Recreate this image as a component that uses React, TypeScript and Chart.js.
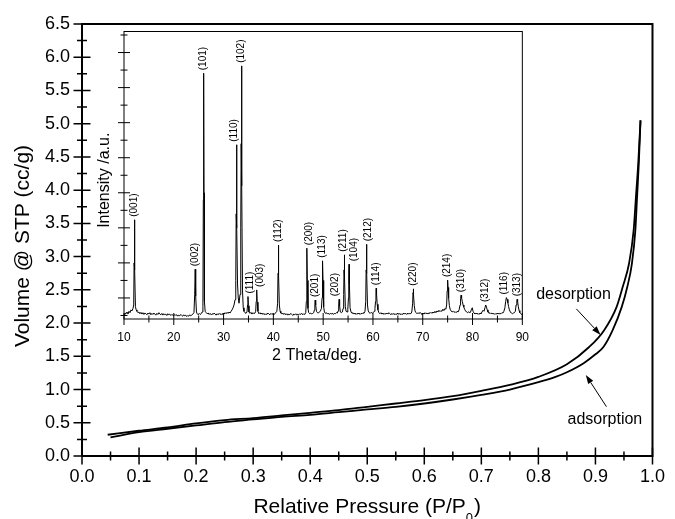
import React, { useEffect, useRef } from 'react';
import { Chart, registerables } from 'chart.js';

Chart.register(...registerables);

const FONT = "'Liberation Sans', Arial, Helvetica, sans-serif";

// ---------- Main isotherm (Relative pressure vs volume) ----------
const adsorptionP = [0.05, 0.1, 0.15, 0.2, 0.25, 0.3, 0.35, 0.4, 0.45, 0.5, 0.55, 0.6, 0.65, 0.7, 0.75, 0.8, 0.83, 0.85, 0.88, 0.9, 0.914, 0.93, 0.946, 0.956, 0.964, 0.97, 0.973, 0.976, 0.979];
const adsorptionV = [0.28, 0.36, 0.41, 0.46, 0.51, 0.55, 0.59, 0.62, 0.66, 0.70, 0.74, 0.79, 0.85, 0.92, 1.00, 1.11, 1.19, 1.26, 1.40, 1.53, 1.64, 1.89, 2.24, 2.55, 2.90, 3.40, 3.90, 4.40, 5.05];
const desorptionP = [0.045, 0.1, 0.15, 0.2, 0.25, 0.3, 0.35, 0.4, 0.45, 0.5, 0.55, 0.6, 0.65, 0.7, 0.75, 0.8, 0.85, 0.889, 0.915, 0.937, 0.948, 0.959, 0.967, 0.971, 0.975, 0.979];
const desorptionV = [0.32, 0.38, 0.43, 0.49, 0.54, 0.57, 0.61, 0.65, 0.69, 0.74, 0.79, 0.84, 0.90, 0.98, 1.07, 1.19, 1.38, 1.64, 1.89, 2.24, 2.55, 2.90, 3.40, 3.90, 4.40, 5.05];

const pressureRange = [0, 1];
const volumeRange = [0, 6.5];

// annotation anchors in data units [P, V]
const desorptionLabelAt = [0.8616, 2.355];
const adsorptionLabelAt = [0.9166, 0.488];
const desorptionArrow = [[0.8665, 2.214], [0.909, 1.822]];
const adsorptionArrow = [[0.9193, 0.742], [0.8831, 1.22]];

// ---------- Inset XRD pattern ----------
const twoThetaRange = [10, 90];
const intensityRange = [40, 860];

const xrdPattern: [number, number][] = [
  [10.0, 52], [10.2, 57], [10.4, 55], [10.6, 60], [10.8, 54], [11.0, 62], [11.2, 58], [11.4, 66], [11.6, 63], [11.8, 70],
  [11.95, 80], [12.03, 200], [12.1, 323], [12.18, 180], [12.3, 75], [12.45, 66],
  [12.6, 62], [12.8, 58], [13.0, 60], [13.2, 55], [13.4, 59], [13.6, 54], [13.8, 58], [14.0, 53], [14.2, 57], [14.4, 55],
  [14.6, 52], [14.8, 57], [15.0, 54], [15.2, 58], [15.4, 52], [15.6, 56], [15.8, 53], [16.0, 57], [16.2, 54], [16.4, 51],
  [16.6, 56], [16.8, 53], [17.0, 58], [17.2, 54], [17.4, 52], [17.6, 56], [17.8, 51], [18.0, 55], [18.2, 52], [18.4, 54],
  [18.6, 50], [18.8, 55], [19.0, 52], [19.2, 54], [19.4, 50], [19.6, 53], [19.8, 51], [20.0, 49], [20.2, 53], [20.4, 50],
  [20.6, 52], [20.8, 48], [21.0, 51], [21.2, 49], [21.4, 53], [21.6, 50], [21.8, 48], [22.0, 52], [22.2, 49], [22.4, 51],
  [22.6, 47], [22.8, 50], [23.0, 48], [23.2, 52], [23.4, 49], [23.6, 51], [23.8, 54],
  [24.05, 58], [24.2, 110], [24.3, 182], [24.4, 105], [24.55, 60],
  [24.7, 55], [24.9, 52], [25.1, 56], [25.3, 53], [25.5, 55], [25.7, 60],
  [25.85, 75], [25.93, 380], [26.0, 741], [26.07, 400], [26.15, 90], [26.3, 62],
  [26.5, 58], [26.7, 55], [26.9, 57], [27.1, 53], [27.3, 56], [27.5, 52], [27.7, 55], [27.9, 53], [28.1, 57], [28.3, 54],
  [28.5, 51], [28.7, 55], [28.9, 52], [29.1, 56], [29.3, 53], [29.5, 55], [29.7, 52], [29.9, 57], [30.1, 54], [30.3, 58],
  [30.5, 55], [30.7, 59], [30.9, 56], [31.1, 60], [31.3, 57], [31.5, 62], [31.7, 66], [31.9, 72], [32.1, 80], [32.3, 95],
  [32.45, 150], [32.53, 340], [32.6, 537], [32.68, 300], [32.8, 140], [32.95, 100], [33.1, 85], [33.3, 110],
  [33.45, 300], [33.53, 540], [33.6, 762], [33.68, 420], [33.8, 120], [33.95, 72], [34.1, 62], [34.3, 58], [34.5, 56], [34.7, 60],
  [34.82, 80], [34.9, 104], [34.98, 78], [35.1, 60], [35.3, 56], [35.5, 59], [35.7, 54], [35.9, 58], [36.1, 55], [36.3, 57], [36.45, 62],
  [36.55, 90], [36.65, 123], [36.75, 88], [36.9, 62], [37.1, 55], [37.3, 58], [37.5, 54], [37.7, 57], [37.9, 53], [38.1, 56],
  [38.3, 52], [38.5, 55], [38.7, 53], [38.9, 57], [39.1, 54], [39.3, 52], [39.5, 56], [39.7, 53], [39.9, 55], [40.1, 52],
  [40.3, 56], [40.5, 58], [40.7, 62],
  [40.85, 85], [40.93, 170], [41.0, 251], [41.08, 165], [41.2, 80], [41.35, 62], [41.5, 57], [41.7, 54], [41.9, 57], [42.1, 53],
  [42.3, 56], [42.5, 52], [42.7, 55], [42.9, 51], [43.1, 54], [43.3, 52], [43.5, 56], [43.7, 53], [43.9, 50], [44.1, 54],
  [44.3, 52], [44.5, 55], [44.7, 51], [44.9, 54], [45.1, 52], [45.3, 55], [45.5, 53], [45.7, 56], [45.9, 52], [46.1, 55],
  [46.3, 53], [46.5, 58],
  [46.62, 90], [46.69, 180], [46.75, 242], [46.82, 150], [46.95, 70], [47.1, 58], [47.3, 55], [47.5, 57], [47.7, 54], [47.9, 56],
  [48.1, 58], [48.25, 66], [48.33, 82], [48.4, 94], [48.5, 80], [48.65, 62], [48.85, 58], [49.05, 57], [49.25, 60], [49.45, 63], [49.65, 70],
  [49.78, 100], [49.85, 170], [49.9, 206], [49.97, 150], [50.1, 75], [50.25, 60], [50.45, 56], [50.65, 58], [50.85, 54], [51.05, 57],
  [51.25, 53], [51.45, 56], [51.65, 54], [51.85, 57], [52.05, 53], [52.25, 56], [52.45, 55], [52.65, 58], [52.85, 57], [53.0, 63],
  [53.12, 80], [53.2, 96], [53.3, 78], [53.45, 60], [53.65, 58], [53.85, 60], [54.0, 70],
  [54.12, 110], [54.19, 180], [54.25, 223], [54.32, 160], [54.45, 75], [54.6, 62], [54.8, 60], [54.95, 68],
  [55.08, 100], [55.14, 160], [55.2, 196], [55.27, 140], [55.4, 72], [55.6, 60], [55.8, 56], [56.0, 58], [56.2, 54], [56.4, 57],
  [56.6, 53], [56.8, 56], [57.0, 54], [57.2, 57], [57.4, 53], [57.6, 56], [57.8, 55], [58.0, 58], [58.2, 56], [58.4, 62],
  [58.55, 90], [58.63, 180], [58.7, 253], [58.78, 170], [58.9, 80], [59.05, 63], [59.25, 58], [59.45, 56], [59.65, 59], [59.85, 56],
  [60.05, 58], [60.25, 62], [60.4, 70],
  [60.52, 90], [60.6, 118], [60.65, 128], [60.72, 112], [60.85, 82], [61.0, 66], [61.2, 58], [61.4, 55], [61.6, 58], [61.8, 54],
  [62.0, 57], [62.2, 53], [62.4, 56], [62.6, 54], [62.8, 57], [63.0, 54], [63.2, 58], [63.4, 55], [63.6, 52], [63.8, 56],
  [64.0, 53], [64.2, 56], [64.4, 52], [64.6, 55], [64.8, 53], [65.0, 57], [65.2, 53], [65.4, 56], [65.6, 52], [65.8, 55],
  [66.0, 53], [66.2, 57], [66.4, 54], [66.6, 56], [66.8, 53], [67.0, 57], [67.2, 54], [67.4, 56], [67.6, 55], [67.8, 60],
  [67.97, 85], [68.05, 115], [68.1, 126], [68.17, 110], [68.3, 78], [68.45, 63], [68.65, 58], [68.85, 55], [69.05, 58], [69.25, 55],
  [69.45, 59], [69.65, 56], [69.85, 53], [70.05, 57], [70.25, 54], [70.45, 58], [70.65, 55], [70.85, 57], [71.05, 54], [71.25, 58],
  [71.45, 56], [71.65, 59], [71.85, 56], [72.05, 60], [72.25, 57], [72.45, 62], [72.65, 58], [72.85, 63], [73.05, 60], [73.25, 65],
  [73.45, 61], [73.65, 64], [73.85, 62], [74.05, 68], [74.25, 64], [74.45, 70], [74.65, 68], [74.8, 80],
  [74.9, 120], [75.0, 151], [75.08, 130], [75.2, 100], [75.35, 78], [75.5, 68], [75.7, 63], [75.9, 60], [76.1, 62], [76.3, 59],
  [76.5, 61], [76.7, 58], [76.9, 62], [77.1, 60], [77.3, 66], [77.5, 80],
  [77.6, 98], [77.7, 108], [77.8, 100], [77.95, 90], [78.1, 80], [78.25, 74], [78.4, 68], [78.6, 63], [78.8, 60], [79.0, 58],
  [79.2, 61], [79.4, 57], [79.6, 60], [79.8, 68], [79.95, 72], [80.1, 62], [80.3, 57], [80.5, 54], [80.7, 57], [80.9, 54],
  [81.1, 56], [81.3, 53], [81.5, 57], [81.7, 55], [81.9, 60], [82.1, 65], [82.3, 62], [82.5, 72],
  [82.65, 80], [82.8, 74], [82.95, 66], [83.1, 60], [83.3, 56], [83.5, 58], [83.7, 55], [83.9, 57], [84.1, 54], [84.3, 56],
  [84.5, 53], [84.7, 56], [84.9, 54], [85.1, 57], [85.3, 54], [85.5, 56], [85.7, 55], [85.9, 58], [86.1, 57], [86.3, 62],
  [86.5, 72], [86.65, 90], [86.8, 101], [86.95, 96], [87.1, 86], [87.25, 75], [87.4, 66], [87.6, 60], [87.8, 57], [88.0, 55],
  [88.2, 57], [88.4, 58], [88.6, 62], [88.75, 80], [88.9, 92], [88.95, 96], [89.05, 90], [89.2, 75], [89.35, 64], [89.5, 58],
  [89.7, 55], [89.85, 53], [90.0, 52],
];

const peakHkl = ['(001)', '(002)', '(101)', '(110)', '(102)', '(111)', '(003)', '(112)', '(200)', '(201)', '(113)', '(202)', '(211)', '(104)', '(212)', '(114)', '(220)', '(214)', '(310)', '(312)', '(116)', '(313)'];
const peakAngle = [12.1, 24.3, 26.0, 32.6, 33.6, 34.9, 36.65, 41.0, 46.75, 48.4, 49.9, 53.2, 54.25, 55.2, 58.7, 60.65, 68.1, 75.0, 77.7, 82.65, 86.8, 88.95];
const peakHeight = [323, 182, 741, 537, 762, 104, 123, 251, 242, 94, 206, 96, 223, 196, 253, 128, 126, 151, 108, 80, 101, 96];

// small horizontal label nudges (px) for crowded labels
const labelNudge: Record<string, number> = { '(110)': -2, '(111)': 2, '(003)': 4, '(200)': 2, '(202)': -4, '(211)': -1, '(104)': 5, '(212)': 2, '(116)': -2 };

function drawArrow(ctx: CanvasRenderingContext2D, x0: number, y0: number, x1: number, y1: number) {
  const ang = Math.atan2(y1 - y0, x1 - x0);
  const headLen = 9;
  const headHalf = 3;
  const bx = x1 - headLen * Math.cos(ang);
  const by = y1 - headLen * Math.sin(ang);
  ctx.beginPath();
  ctx.lineWidth = 1;
  ctx.moveTo(x0, y0);
  ctx.lineTo(bx, by);
  ctx.stroke();
  ctx.beginPath();
  ctx.moveTo(x1, y1);
  ctx.lineTo(bx + headHalf * Math.sin(ang), by - headHalf * Math.cos(ang));
  ctx.lineTo(bx - headHalf * Math.sin(ang), by + headHalf * Math.cos(ang));
  ctx.closePath();
  ctx.fill();
}

const mainDecor = {
  id: 'mainDecor',
  afterDraw(chart: any) {
    const { ctx, chartArea } = chart;
    const { left, right, top, bottom } = chartArea;
    const x = chart.scales.x;
    const y = chart.scales.y;
    ctx.save();
    ctx.strokeStyle = '#000';
    ctx.fillStyle = '#000';
    ctx.lineWidth = 2;
    ctx.strokeRect(left, top, right - left, bottom - top);

    // crossing tick marks
    ctx.lineWidth = 1.5;
    ctx.beginPath();
    const xv = x.ticks.map((t: any) => t.value);
    xv.forEach((v: number, i: number) => {
      const px = x.getPixelForValue(v);
      ctx.moveTo(px, bottom - 8.5);
      ctx.lineTo(px, bottom + 8.5);
      if (i < xv.length - 1) {
        const pm = x.getPixelForValue((v + xv[i + 1]) / 2);
        ctx.moveTo(pm, bottom - 4.5);
        ctx.lineTo(pm, bottom + 4.5);
      }
    });
    const yv = y.ticks.map((t: any) => t.value);
    yv.forEach((v: number, i: number) => {
      const py = y.getPixelForValue(v);
      ctx.moveTo(left - 8.5, py);
      ctx.lineTo(left + 8.5, py);
      if (i < yv.length - 1) {
        const pm = y.getPixelForValue((v + yv[i + 1]) / 2);
        ctx.moveTo(left - 5, pm);
        ctx.lineTo(left + 5, pm);
      }
    });
    ctx.stroke();

    // axis titles
    ctx.font = `21px ${FONT}`;
    ctx.textBaseline = 'alphabetic';
    const mainTxt = 'Relative Pressure (P/P';
    const wMain = ctx.measureText(mainTxt).width;
    ctx.font = `13px ${FONT}`;
    const wSub = ctx.measureText('0').width;
    ctx.font = `21px ${FONT}`;
    const wClose = ctx.measureText(')').width;
    const total = wMain + wSub + wClose + 1;
    const cx = (left + right) / 2;
    let sx = cx - total / 2;
    const baseY = bottom + 57;
    ctx.textAlign = 'left';
    ctx.fillText(mainTxt, sx, baseY);
    sx += wMain;
    ctx.font = `13px ${FONT}`;
    ctx.fillText('0', sx, baseY + 9);
    sx += wSub + 1;
    ctx.font = `21px ${FONT}`;
    ctx.fillText(')', sx, baseY);

    ctx.save();
    ctx.translate(23, (top + bottom) / 2 + 6);
    ctx.rotate(-Math.PI / 2);
    ctx.textAlign = 'center';
    ctx.textBaseline = 'middle';
    ctx.fillText('Volume @ STP (cc/g)', 0, 0);
    ctx.restore();

    // annotations
    ctx.font = `16px ${FONT}`;
    ctx.textAlign = 'center';
    ctx.textBaseline = 'alphabetic';
    ctx.fillText('desorption', x.getPixelForValue(desorptionLabelAt[0]), y.getPixelForValue(desorptionLabelAt[1]));
    ctx.fillText('adsorption', x.getPixelForValue(adsorptionLabelAt[0]), y.getPixelForValue(adsorptionLabelAt[1]));
    drawArrow(ctx,
      x.getPixelForValue(desorptionArrow[0][0]), y.getPixelForValue(desorptionArrow[0][1]),
      x.getPixelForValue(desorptionArrow[1][0]), y.getPixelForValue(desorptionArrow[1][1]));
    drawArrow(ctx,
      x.getPixelForValue(adsorptionArrow[0][0]), y.getPixelForValue(adsorptionArrow[0][1]),
      x.getPixelForValue(adsorptionArrow[1][0]), y.getPixelForValue(adsorptionArrow[1][1]));
    ctx.restore();
  },
};

const insetDecor = {
  id: 'insetDecor',
  afterDraw(chart: any) {
    const { ctx, chartArea } = chart;
    const { left, right, top, bottom } = chartArea;
    const x = chart.scales.x;
    const y = chart.scales.y;
    ctx.save();
    ctx.strokeStyle = '#000';
    ctx.fillStyle = '#000';
    ctx.lineWidth = 1;
    ctx.strokeRect(left, top, right - left, bottom - top);

    ctx.beginPath();
    const xv = x.ticks.map((t: any) => t.value);
    xv.forEach((v: number, i: number) => {
      const px = x.getPixelForValue(v);
      ctx.moveTo(px, bottom - 6);
      ctx.lineTo(px, bottom + 6);
      if (i < xv.length - 1) {
        const pm = x.getPixelForValue((v + xv[i + 1]) / 2);
        ctx.moveTo(pm, bottom - 3.5);
        ctx.lineTo(pm, bottom + 3.5);
      }
    });
    for (let v = 50; v <= 850; v += 50) {
      const py = y.getPixelForValue(v);
      const len = v % 100 === 0 ? 6 : 3.5;
      ctx.moveTo(left - len, py);
      ctx.lineTo(left + len, py);
    }
    ctx.stroke();

    // peak labels
    ctx.font = `10px ${FONT}`;
    peakHkl.forEach((h, i) => {
      const px = x.getPixelForValue(peakAngle[i]) + (labelNudge[h] || 0);
      const py = y.getPixelForValue(peakHeight[i]) - 3;
      ctx.save();
      ctx.translate(px, py);
      ctx.rotate(-Math.PI / 2);
      ctx.textAlign = 'left';
      ctx.textBaseline = 'middle';
      ctx.fillText(h, 0, 0);
      ctx.restore();
    });

    // titles
    ctx.font = `16px ${FONT}`;
    ctx.textAlign = 'center';
    ctx.textBaseline = 'alphabetic';
    ctx.fillText('2 Theta/deg.', left + 193, bottom + 41);
    ctx.save();
    ctx.translate(left - 19, (top + bottom) / 2 + 5);
    ctx.rotate(-Math.PI / 2);
    ctx.textAlign = 'center';
    ctx.textBaseline = 'middle';
    ctx.fillText('Intensity /a.u.', 0, 0);
    ctx.restore();
    ctx.restore();
  },
};

export default function App() {
  const mainRef = useRef<HTMLCanvasElement>(null);
  const insetRef = useRef<HTMLCanvasElement>(null);

  useEffect(() => {
    const main = new Chart(mainRef.current as HTMLCanvasElement, {
      type: 'line',
      data: {
        datasets: [
          {
            label: 'adsorption',
            data: adsorptionP.map((p, i) => ({ x: p, y: adsorptionV[i] })),
            borderColor: '#000',
            borderWidth: 1.8,
            pointRadius: 0,
            fill: false,
            cubicInterpolationMode: 'monotone',
            borderJoinStyle: 'round',
          },
          {
            label: 'desorption',
            data: desorptionP.map((p, i) => ({ x: p, y: desorptionV[i] })),
            borderColor: '#000',
            borderWidth: 1.8,
            pointRadius: 0,
            fill: false,
            cubicInterpolationMode: 'monotone',
            borderJoinStyle: 'round',
          },
        ],
      },
      options: {
        animation: false,
        responsive: false,
        maintainAspectRatio: false,
        events: [],
        layout: { padding: { left: 0, right: 14, top: 24, bottom: 0 } },
        plugins: { legend: { display: false }, tooltip: { enabled: false } },
        scales: {
          x: {
            type: 'linear',
            min: pressureRange[0],
            max: pressureRange[1],
            afterFit: (s: any) => { s.height = 63; },
            grid: { display: false, drawTicks: false },
            border: { display: false },
            ticks: {
              stepSize: 0.1,
              autoSkip: false,
              maxRotation: 0,
              padding: 10,
              color: '#000',
              font: { family: FONT, size: 18 },
              callback: (v: any) => Number(v).toFixed(1),
            },
          },
          y: {
            type: 'linear',
            min: volumeRange[0],
            max: volumeRange[1],
            afterFit: (s: any) => { s.width = 82; },
            grid: { display: false, drawTicks: false },
            border: { display: false },
            ticks: {
              stepSize: 0.5,
              autoSkip: false,
              padding: 12,
              color: '#000',
              font: { family: FONT, size: 18 },
              callback: (v: any) => Number(v).toFixed(1),
            },
          },
        },
      } as any,
      plugins: [mainDecor],
    });

    const inset = new Chart(insetRef.current as HTMLCanvasElement, {
      type: 'line',
      data: {
        datasets: [
          {
            label: 'XRD',
            data: xrdPattern.map(([a, v]) => ({ x: a, y: v })),
            borderColor: '#000',
            borderWidth: 1,
            pointRadius: 0,
            fill: false,
            tension: 0,
            borderJoinStyle: 'round',
          },
        ],
      },
      options: {
        animation: false,
        responsive: false,
        maintainAspectRatio: false,
        events: [],
        layout: { padding: { left: 0, right: 12, top: 31.5, bottom: 0 } },
        plugins: { legend: { display: false }, tooltip: { enabled: false } },
        scales: {
          x: {
            type: 'linear',
            min: twoThetaRange[0],
            max: twoThetaRange[1],
            afterFit: (s: any) => { s.height = 61; },
            grid: { display: false, drawTicks: false },
            border: { display: false },
            ticks: {
              stepSize: 10,
              autoSkip: false,
              maxRotation: 0,
              padding: 11,
              color: '#000',
              font: { family: FONT, size: 12 },
            },
          },
          y: {
            type: 'linear',
            min: intensityRange[0],
            max: intensityRange[1],
            afterFit: (s: any) => { s.width = 84; },
            grid: { display: false, drawTicks: false },
            border: { display: false },
            ticks: { display: false, stepSize: 100 },
          },
        },
      } as any,
      plugins: [insetDecor],
    });

    return () => {
      main.destroy();
      inset.destroy();
    };
  }, []);

  return (
    <div style={{ position: 'fixed', left: 0, top: 0, width: 675, height: 519, background: '#fff' }}>
      <canvas
        ref={mainRef}
        width={675}
        height={519}
        style={{ position: 'absolute', left: 0, top: 0, width: 675, height: 519 }}
      />
      <canvas
        ref={insetRef}
        width={500}
        height={380}
        style={{ position: 'absolute', left: 40, top: 0, width: 500, height: 380 }}
      />
    </div>
  );
}
